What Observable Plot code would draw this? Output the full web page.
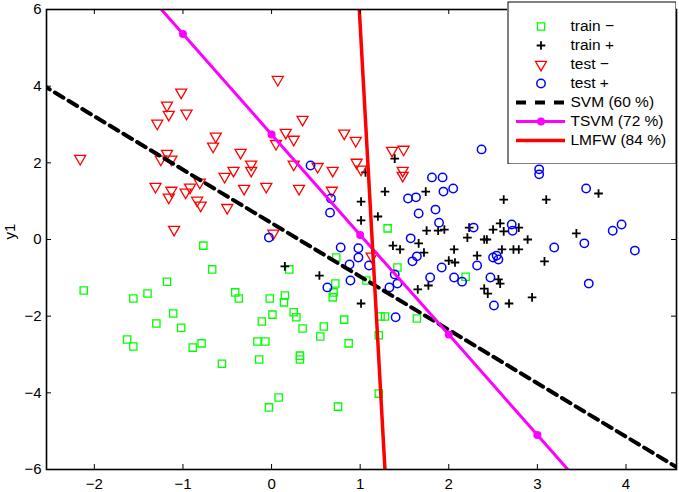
<!DOCTYPE html>
<html>
<head>
<meta charset="utf-8">
<script src="https://cdn.jsdelivr.net/npm/d3@7"></script>
<script src="https://cdn.jsdelivr.net/npm/@observablehq/plot@0.6"></script>
<style>
  body { margin: 0; background: #fff; }
  #chart { position: relative; width: 679px; height: 492px; }
  #legend { position: absolute; left: 507px; top: 1px; }
</style>
</head>
<body>
<div id="chart"></div>
<script>
// Training points, class − (x, y1)
const trainNeg = [
  [-2.12,-1.33],[-1.56,-1.54],[-1.40,-1.41],[-1.18,-1.10],[-0.77,-0.16],[-0.67,-0.78],
  [-1.11,-1.93],[-1.30,-2.19],[-1.02,-2.30],[-1.63,-2.61],[-1.56,-2.79],[-0.89,-2.82],
  [-0.79,-2.71],[-0.56,-3.24],[-0.41,-1.38],[-0.37,-1.54],[-0.02,-1.54],[0.15,-1.46],
  [0.14,-1.64],[0.01,-1.96],[-0.11,-2.14],[0.25,-1.90],[0.28,-2.03],[0.35,-2.32],
  [-0.16,-2.66],[-0.07,-2.66],[-0.14,-3.13],[0.32,-3.03],[0.32,-3.13],[0.08,-4.12],
  [-0.03,-4.38],[0.20,-0.78],[0.59,-2.27],[0.55,-2.53],[0.82,-2.09],[0.87,-2.71],
  [0.73,-0.47],[0.72,-1.15],[0.70,-1.38],[0.69,-1.51],[0.75,-4.36],[1.21,-4.02],
  [1.21,-2.50],[1.23,-2.01],[1.28,-2.01],[1.07,-1.07],[1.42,-0.73],[1.64,-2.06],
  [1.31,0.29],[2.19,-0.97]
];

// Training points, class +
const trainPos = [
  [1.39,2.11],[1.06,1.75],[1.28,1.25],[1.74,1.25],[2.62,1.04],[3.10,1.04],[3.69,1.20],
  [1.01,0.99],[1.20,0.60],[1.01,0.50],[1.75,0.23],[1.88,0.23],[1.95,0.26],[2.23,0.31],
  [2.21,0.05],[2.40,0.00],[2.43,0.00],[2.50,0.26],[2.62,0.21],[2.58,0.42],[2.79,0.31],
  [2.89,0.00],[3.44,0.16],[2.06,-0.26],[2.60,-0.26],[2.73,-0.26],[2.79,-0.26],[2.32,-0.42],
  [2.07,-0.60],[2.00,-0.55],[3.08,-0.57],[2.56,-1.04],[2.58,-1.15],[2.40,-1.28],[2.44,-1.41],
  [2.68,-1.67],[2.94,-1.51],[1.37,-0.16],[1.45,-0.26],[1.66,-0.10],[1.72,-0.34],[0.15,-0.70],
  [0.54,-0.94],[1.01,-1.67],[1.65,-1.30],[1.77,-1.20]
];

// Test points, class −
const testNeg = [
  [-2.16,2.11],[-1.02,3.84],[-1.18,3.50],[-1.16,3.26],[-0.96,3.29],[-1.29,3.03],[-0.63,2.69],
  [-0.66,2.43],[-0.35,2.27],[-1.18,2.24],[-1.25,2.09],[-1.13,2.09],[-0.23,1.96],[-0.23,1.80],
  [-0.43,1.80],[-0.53,1.64],[-1.31,1.38],[-1.13,1.28],[-1.16,1.10],[-0.97,1.23],[-0.92,1.36],
  [-0.81,1.49],[-0.84,1.02],[-0.80,0.89],[-0.31,1.33],[-0.50,0.83],[-1.10,0.26],[0.07,4.17],
  [0.35,3.13],[0.16,2.79],[0.25,2.61],[0.05,2.50],[0.82,2.77],[0.95,2.58],[0.25,1.96],
  [0.52,1.90],[0.69,1.80],[0.96,2.01],[1.01,1.83],[-0.06,1.38],[0.31,1.33],[0.68,1.28],
  [1.36,2.32],[1.49,2.35],[1.48,1.80],[1.48,1.67],[0.02,0.16],[1.13,-0.44]
];

// Test points, class +
const testPos = [
  [2.37,2.35],[3.02,1.83],[3.02,1.70],[3.55,1.33],[0.44,1.93],[0.67,1.07],[0.66,0.70],
  [1.81,1.62],[1.93,1.62],[1.94,1.25],[2.05,1.33],[1.54,1.07],[1.63,1.10],[1.85,0.78],
  [1.66,0.68],[1.89,0.44],[2.28,0.31],[2.71,0.39],[2.72,0.23],[1.57,0.03],[0.78,-0.21],
  [0.98,-0.23],[0.98,-0.47],[0.88,-0.65],[1.10,-0.68],[1.64,-0.44],[1.59,-0.57],[1.92,-0.73],
  [1.79,-0.99],[2.06,-0.99],[2.15,-1.10],[2.32,-0.68],[2.50,-0.47],[2.54,-0.42],[2.56,-0.52],
  [2.47,-0.99],[2.51,-1.72],[3.19,-0.21],[3.53,-0.10],[3.85,0.23],[3.95,0.39],[4.10,-0.29],
  [3.58,-1.15],[1.39,-0.91],[0.89,-1.07],[0.63,-1.25],[1.33,-1.25],[1.42,-1.15],[1.40,-2.03],
  [-0.03,0.05]
];

// Decision boundaries
const svmLine = [[-2.6, 4.05], [4.6, -5.98]];
const tsvmX = [-2, -1, 0, 1, 2, 3, 4];
const tsvmY = [7.99, 5.36, 2.74, 0.12, -2.48, -5.10, -7.72];
const lmfwLine = [[0.983, 6.3], [1.287, -6.3]];

const xTicks = [-2, -1, 0, 1, 2, 3, 4];
const yTicks = [-6, -4, -2, 0, 2, 4, 6];
const legendLabels = ["train −", "train +", "test −", "test +", "SVM (60 %)", "TSVM (72 %)", "LMFW (84 %)"];

const FONT = '"Liberation Sans", Arial, Helvetica, sans-serif';
const GREEN = "#00ff00", RED = "#ff0000", BLUE = "#0000ff", MAGENTA = "#ff00ff";

const W = 679, H = 492, mL = 46, mR = 3, mT = 9, mB = 23;
const frameW = W - mL - mR, frameH = H - mT - mB;
const TICK = 5;

const px = d => d[0], py = d => d[1];
const tsvm = tsvmX.map((x, i) => [x, tsvmY[i]]);

const styles = {
  trainNeg: {symbol: "square", r: 4.1, stroke: GREEN, strokeWidth: 1.3, fill: "none"},
  trainPos: {symbol: "plus", r: 2.9, stroke: "black", strokeWidth: 1.8},
  testNeg: {symbol: "triangle", rotate: 180, r: 4.1, stroke: RED, strokeWidth: 1.3, fill: "none"},
  testPos: {symbol: "circle", r: 4.2, stroke: BLUE, strokeWidth: 1.5, fill: "none"}
};

const main = Plot.plot({
  width: W, height: H,
  marginLeft: mL, marginRight: mR, marginTop: mT, marginBottom: mB,
  style: {fontFamily: FONT, fontSize: "15px", background: "white", color: "black"},
  x: {domain: [-2.54, 4.57]},
  y: {domain: [-6, 6]},
  marks: [
    Plot.axisX(xTicks, {tickSize: 0, tickPadding: 9, label: null, fontSize: 15}),
    Plot.axisY(yTicks, {tickSize: 0, tickPadding: 5, label: null, fontSize: 15}),
    Plot.text(["y1"], {frameAnchor: "left", rotate: -90, dx: -36, text: d => d, fontSize: 15, fill: "black"}),

    Plot.dot(trainNeg, {x: px, y: py, ...styles.trainNeg}),
    Plot.dot(trainPos, {x: px, y: py, ...styles.trainPos}),
    Plot.dot(testNeg, {x: px, y: py, ...styles.testNeg}),
    Plot.dot(testPos, {x: px, y: py, ...styles.testPos}),

    Plot.line(svmLine, {x: px, y: py, stroke: "black", strokeWidth: 4, strokeDasharray: "10,6", clip: true}),
    Plot.line(tsvm, {x: px, y: py, stroke: MAGENTA, strokeWidth: 3, clip: true}),
    Plot.dot(tsvm, {x: px, y: py, r: 4, fill: MAGENTA, clip: true}),
    Plot.line(lmfwLine, {x: px, y: py, stroke: RED, strokeWidth: 3.5, clip: true}),

    // inward ticks on all four sides
    Plot.tickX(xTicks, {x: d => d, insetTop: frameH - TICK, stroke: "black"}),
    Plot.tickX(xTicks, {x: d => d, insetBottom: frameH - TICK, stroke: "black"}),
    Plot.tickY(yTicks, {y: d => d, insetRight: frameW - TICK, stroke: "black"}),
    Plot.tickY(yTicks, {y: d => d, insetLeft: frameW - TICK, stroke: "black"}),
    Plot.frame({stroke: "black", strokeWidth: 1.6})
  ]
});

const legend = Plot.plot({
  width: 169, height: 163, margin: 0,
  style: {fontFamily: FONT, fontSize: "15.5px", background: "white", color: "black"},
  x: {domain: [0, 1], range: [9, 58], axis: null},
  y: {type: "point", domain: legendLabels, range: [14, 150], axis: null},
  marks: [
    Plot.frame({stroke: "black", strokeWidth: 1, inset: 0.5}),
    Plot.dot([legendLabels[0]], {x: () => 0.5, y: d => d, ...styles.trainNeg}),
    Plot.dot([legendLabels[1]], {x: () => 0.5, y: d => d, ...styles.trainPos}),
    Plot.dot([legendLabels[2]], {x: () => 0.5, y: d => d, ...styles.testNeg}),
    Plot.dot([legendLabels[3]], {x: () => 0.5, y: d => d, ...styles.testPos}),
    Plot.ruleY([legendLabels[4]], {y: d => d, x1: () => 0, x2: () => 1, stroke: "black", strokeWidth: 4, strokeDasharray: "10,9"}),
    Plot.ruleY([legendLabels[5]], {y: d => d, x1: () => 0, x2: () => 1, stroke: MAGENTA, strokeWidth: 3}),
    Plot.dot([legendLabels[5]], {x: () => 0.5, y: d => d, r: 4, fill: MAGENTA}),
    Plot.ruleY([legendLabels[6]], {y: d => d, x1: () => 0, x2: () => 1, stroke: RED, strokeWidth: 3.5}),
    Plot.text(legendLabels, {x: () => 1, y: d => d, text: d => d, dx: 5, textAnchor: "start", fill: "black", fontSize: 15.5})
  ]
});
legend.id = "legend";

const chart = document.getElementById("chart");
chart.appendChild(main);
chart.appendChild(legend);
</script>
</body>
</html>
